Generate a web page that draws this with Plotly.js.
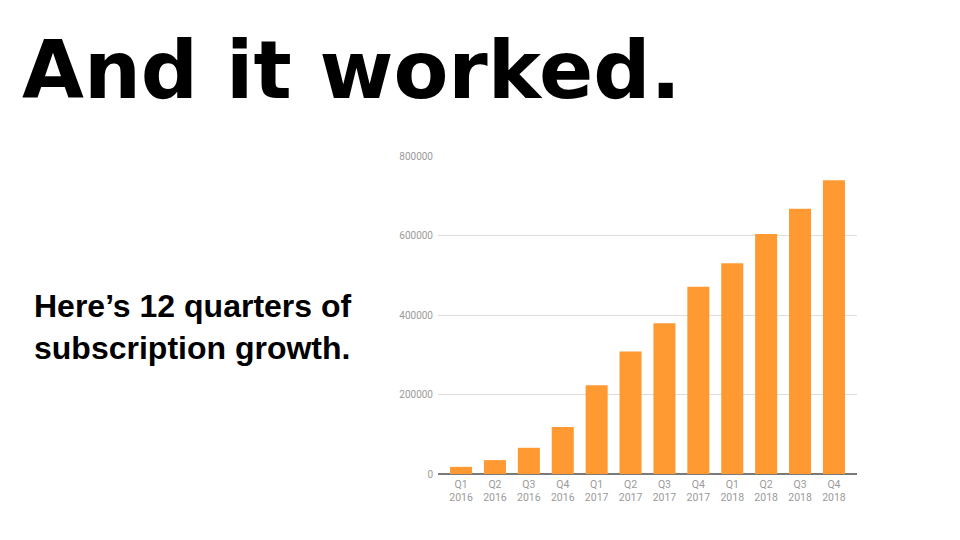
<!DOCTYPE html>
<html>
<head>
<meta charset="utf-8">
<script src="https://cdn.plot.ly/plotly-3.0.1.min.js"></script>
<style>
html,body{margin:0;padding:0;background:#fff;}
#chart{width:960px;height:540px;}
</style>
</head>
<body>
<div id="chart"></div>
<script>
var quarters = ["Q1","Q2","Q3","Q4","Q1","Q2","Q3","Q4","Q1","Q2","Q3","Q4"];
var years = ["2016","2016","2016","2016","2017","2017","2017","2017","2018","2018","2018","2018"];
var subscriptions = [18000, 35000, 66000, 118000, 223000, 308000, 379000, 471000, 530000, 604000, 667000, 739000];
var yTicks = [0, 200000, 400000, 600000, 800000];
var titleText = "And it worked.";
var subtitleText = "Here\u2019s 12 quarters of<br>subscription growth.";

var labels = quarters.map(function(q, i){ return q + "<br>" + years[i]; });

var trace = {
  type: "bar",
  x: labels,
  y: subscriptions,
  marker: {color: "#ff9a33"},
  hoverinfo: "skip"
};

var layout = {
  width: 960, height: 540,
  margin: {l: 0, r: 0, t: 0, b: 0},
  paper_bgcolor: "#ffffff",
  plot_bgcolor: "#ffffff",
  showlegend: false,
  bargap: 0.35,
  xaxis: {
    domain: [438/960, 857/960],
    range: [-0.68, 11.68],
    type: "category",
    showgrid: false,
    showline: false,
    zeroline: false,
    tickfont: {family: "Roboto, Arial, sans-serif", size: 10.5, color: "#9a9a9a"},
    ticks: "",
    ticklabelstandoff: 2
  },
  yaxis: {
    domain: [66/540, 384/540],
    range: [0, 800000],
    tickvals: yTicks,
    ticktext: yTicks.map(String),
    showgrid: true,
    gridcolor: "#dcdcdc",
    gridwidth: 1,
    zeroline: true,
    zerolinecolor: "#7a7a7a",
    zerolinewidth: 1.5,
    showline: false,
    ticks: "",
    tickfont: {family: "Roboto, Arial, sans-serif", size: 10, color: "#9a9a9a"},
    ticklabelstandoff: 4
  },
  annotations: [
    {
      text: "<b>" + titleText + "</b>",
      xref: "paper", yref: "paper",
      x: 20/960, y: 1 - 70/540,
      xanchor: "left", yanchor: "middle",
      showarrow: false,
      font: {family: "DejaVu Sans", size: 80, color: "#000000"}
    },
    {
      text: "<b>" + subtitleText + "</b>",
      xref: "paper", yref: "paper",
      x: 32/960, y: 1 - 327/540,
      xanchor: "left", yanchor: "middle",
      align: "left",
      showarrow: false,
      font: {family: "Liberation Sans, Arial, sans-serif", size: 32, color: "#000000"}
    }
  ]
};

Plotly.newPlot("chart", [trace], layout, {staticPlot: true, displayModeBar: false});
</script>
</body>
</html>
